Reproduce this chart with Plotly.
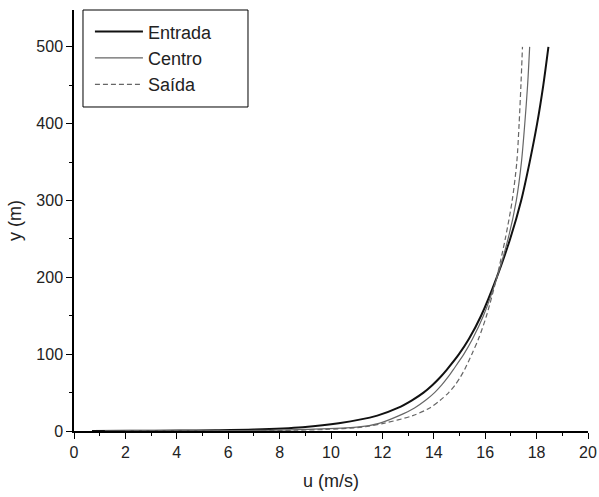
import plotly.graph_objects as go

# Values (u in m/s, y in m)
entrada_y = [0.1, 0.2, 0.5, 1, 2, 5, 10, 20, 30, 40, 50, 60, 70, 80, 100, 120, 150, 200, 250, 300, 350, 400, 450, 500]
entrada_u = [0.7, 2.2, 4.1, 5.5, 7.0, 8.9, 10.3, 11.8, 12.6, 13.15, 13.6, 13.95, 14.25, 14.51, 14.98, 15.37, 15.84, 16.45, 16.97, 17.4, 17.73, 18.02, 18.26, 18.46]

centro_y = [0.1, 0.2, 0.5, 1, 2, 5, 10, 20, 30, 40, 50, 60, 70, 80, 100, 120, 150, 200, 250, 300, 350, 400, 450, 500]
centro_u = [1.2, 3.0, 6.0, 7.8, 9.0, 11.0, 11.87, 12.65, 13.25, 13.68, 14.03, 14.31, 14.55, 14.76, 15.17, 15.51, 15.93, 16.46, 16.89, 17.21, 17.41, 17.54, 17.65, 17.73]

saida_y = [0.1, 0.2, 0.5, 1, 2, 5, 10, 20, 30, 40, 50, 60, 70, 80, 100, 120, 150, 200, 250, 300, 350, 400, 450, 500]
saida_u = [2.0, 4.5, 7.0, 8.6, 9.8, 11.2, 12.05, 13.18, 13.84, 14.25, 14.58, 14.83, 15.03, 15.2, 15.48, 15.74, 16.05, 16.45, 16.78, 17.05, 17.23, 17.32, 17.39, 17.45]

x_ticks = [0, 2, 4, 6, 8, 10, 12, 14, 16, 18, 20]
y_ticks = [0, 100, 200, 300, 400, 500]

FONT = "Liberation Sans, Arial, sans-serif"

fig = go.Figure()
fig.add_trace(go.Scatter(x=entrada_u, y=entrada_y, mode="lines", name="Entrada",
                         line=dict(color="#111111", width=2, shape="spline", smoothing=0.8)))
fig.add_trace(go.Scatter(x=centro_u, y=centro_y, mode="lines", name="Centro",
                         line=dict(color="#666666", width=1.2, shape="spline", smoothing=0.8)))
fig.add_trace(go.Scatter(x=saida_u, y=saida_y, mode="lines", name="Saída",
                         line=dict(color="#666666", width=1.2, dash="5px,3px", shape="spline", smoothing=0.8)))

axis_common = dict(showline=True, linecolor="black", linewidth=1.5, showgrid=False,
                   zeroline=False, ticks="outside", ticklen=6, tickwidth=1.2, automargin=False,
                   ticklabeloverflow="allow",
                   tickcolor="black", tickfont=dict(family=FONT, size=16, color="#222222"))

fig.update_layout(
    width=599, height=497,
    margin=dict(l=74, r=11, t=10, b=66),
    paper_bgcolor="white", plot_bgcolor="white",
    font=dict(family=FONT, color="#222222"),
    xaxis=dict(range=[0, 20], tickvals=x_ticks,
               title=dict(text="u (m/s)", font=dict(family=FONT, size=18), standoff=14),
               minor=dict(dtick=1, ticks="outside", ticklen=3, tickcolor="black", tickwidth=1),
               **axis_common),
    yaxis=dict(range=[0, 548], tickvals=y_ticks,
               title=dict(text="y (m)", font=dict(family=FONT, size=18), standoff=10),
               minor=dict(dtick=50, ticks="outside", ticklen=3, tickcolor="black", tickwidth=1),
               **axis_common),
    legend=dict(x=0.031, y=0.992, xanchor="left", yanchor="top",
                borderwidth=0, bgcolor="rgba(0,0,0,0)",
                font=dict(family=FONT, size=18, color="#222222"),
                itemwidth=48, tracegroupgap=0),
    showlegend=True,
    shapes=[dict(type="rect", xref="paper", yref="paper",
                 x0=0.0175, x1=0.3385, y0=0.7696, y1=1.0,
                 line=dict(color="black", width=1), fillcolor="rgba(0,0,0,0)", layer="above")],
)

fig.write_html(
    "out.html",
    config={"displayModeBar": False},
    post_script="document.body.style.margin='0';document.documentElement.style.overflow='hidden';document.body.style.overflow='hidden';",
)
